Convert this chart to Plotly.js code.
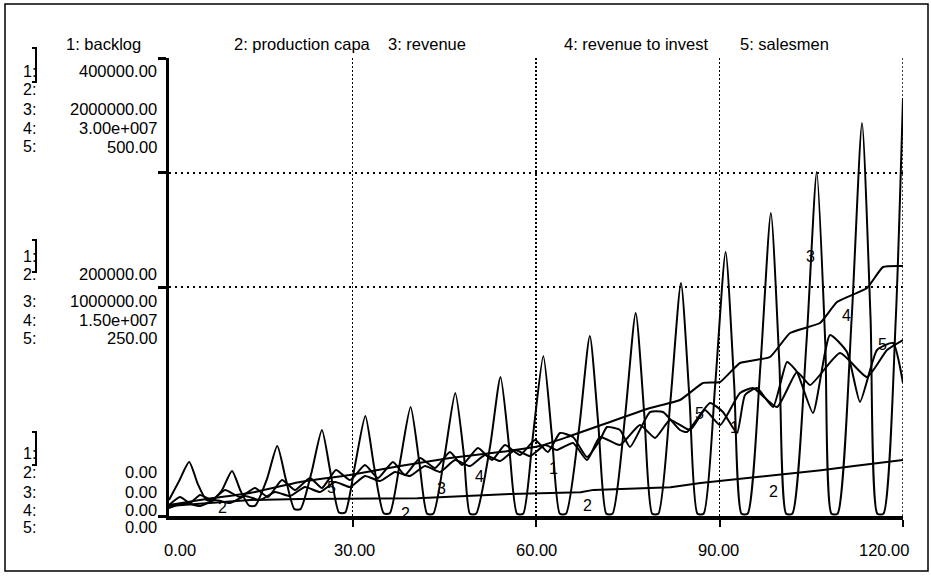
<!DOCTYPE html>
<html>
<head>
<meta charset="utf-8">
<script src="https://cdn.plot.ly/plotly-3.0.1.min.js"></script>
<style>html,body{margin:0;padding:0;background:#fff;}#chart{width:931px;height:576px;}</style>
</head>
<body>
<div id="chart"></div>
<script>
// ---------------- data ----------------
const seriesNames = ['1: backlog', '2: production capa', '3: revenue', '4: revenue to invest', '5: salesmen'];

// 1: backlog (0 .. 400000)
const backlogTime = [0, 1.8, 3.43, 5.07, 7.03, 9.16, 11.61, 14.06, 16.19, 18.47, 20.6, 23.05, 25.01, 27.3, 29.59, 32.04, 34.17, 36.62, 38.58, 41.04, 43.49, 45.94, 47.9, 50.52, 52.81, 54.93, 57.39, 59.84, 61.96, 63.92, 66.05, 68.34, 70.46, 71.61, 73.73, 75.37, 78.64, 80.76, 83.54, 84.69, 88.45, 90.57, 92.86, 94.17, 96.13, 98.75, 101.04, 102.67, 105.29, 108.07, 110.85, 112.97, 115.75, 118.37, 120];
const backlog = [9600, 16600, 11400, 18300, 14000, 22700, 16600, 24500, 16600, 31400, 22700, 33200, 24500, 40200, 31400, 44500, 33200, 47200, 35800, 50700, 41900, 55900, 44500, 59400, 48900, 62000, 53300, 66400, 55900, 72500, 69000, 51500, 66400, 77700, 75100, 60300, 90800, 90800, 75100, 73400, 98700, 90800, 72500, 105700, 111800, 95200, 134500, 125800, 90000, 158100, 143200, 99600, 145000, 151100, 116200];

// 2: production capacity
const capacityTime = [0, 13.3, 21.4, 40.6, 55.8, 62.4, 67.3, 69.4, 82.0, 86.9, 93.5, 97.3, 106.6, 112.0, 120];
const capacity = [8800, 14000, 14800, 15600, 19200, 20000, 20800, 22800, 25200, 28800, 32400, 34800, 40000, 43600, 49000];

// 3: revenue (0 .. 2000000)
const revenueTime = [0, 1.6, 3.3, 4.7, 6.1, 7.1, 8.6, 10.3, 11.7, 13.1, 14.1, 16.0, 17.7, 19.1, 20.5, 21.5, 23.3, 25.0, 26.4, 27.8, 28.8, 30.4, 32.1, 33.5, 35.1, 36.1, 37.8, 39.5, 40.9, 42.2, 43.2, 45.1, 46.8, 48.2, 49.2, 50.2, 52.5, 54.2, 55.6, 56.9, 57.9, 59.5, 61.2, 62.6, 63.9, 64.9, 67.1, 68.8, 70.2, 71.5, 72.5, 74.6, 76.3, 77.7, 79.0, 80.0, 82.0, 83.7, 85.1, 86.4, 87.4, 89.3, 91.0, 92.4, 93.6, 94.6, 96.7, 98.4, 99.8, 100.9, 101.9, 104.2, 105.9, 107.3, 108.3, 109.3, 111.6, 113.3, 114.7, 115.8, 116.8, 118.8, 120.0];
const revenue = [70000, 150000, 236000, 140000, 70000, 70000, 110000, 197000, 110000, 45000, 45000, 160000, 306000, 160000, 30000, 30000, 190000, 376000, 190000, 15000, 15000, 220000, 437000, 220000, 12000, 12000, 240000, 476000, 240000, 10000, 10000, 270000, 537000, 270000, 10000, 10000, 305000, 607000, 305000, 10000, 10000, 350000, 699000, 350000, 10000, 10000, 395000, 786000, 395000, 10000, 10000, 445000, 886000, 445000, 10000, 10000, 510000, 1017000, 510000, 10000, 10000, 575000, 1153000, 575000, 10000, 10000, 660000, 1323000, 660000, 10000, 10000, 750000, 1502000, 750000, 10000, 10000, 860000, 1716000, 860000, 10000, 10000, 850000, 1825000];

// 4: revenue to invest (0 .. 3.00e+007)
const investTime = [0, 5.07, 13.24, 21.42, 29.59, 37.77, 45.94, 54.12, 60.66, 65.56, 71.61, 78.64, 83.54, 87.3, 90.09, 93.35, 98.26, 101.53, 106.43, 109.21, 114.12, 116.73, 120];
const revenueToInvest = [720000, 1048000, 1507000, 2227000, 2686000, 3275000, 3799000, 4192000, 4585000, 5240000, 6092000, 7074000, 7598000, 8712000, 8777000, 10022000, 10415000, 11987000, 12642000, 14017000, 14934000, 16310000, 16376000];

// 5: salesmen (0 .. 500)
const salesmenTime = [0, 2.62, 5.07, 7.52, 9.97, 12.43, 14.88, 17.33, 19.78, 22.24, 24.69, 27.14, 29.59, 32.04, 34.5, 36.95, 39.4, 41.85, 44.31, 46.76, 49.21, 51.66, 54.12, 56.57, 59.02, 61.47, 63.43, 66.05, 68.34, 70.46, 73.73, 77.0, 79.46, 81.91, 85.18, 87.63, 90.09, 93.35, 95.48, 99.4, 102.67, 104.8, 109.7, 114.12, 117.39, 120];
const salesmen = [8.7, 14.2, 10.9, 17.5, 14.2, 21.8, 17.5, 26.2, 21.8, 31.7, 26.2, 37.1, 31.7, 43.7, 38.2, 48.0, 43.7, 54.6, 48.0, 61.1, 54.6, 66.6, 60.0, 72.1, 65.5, 77.5, 72.1, 79.7, 61.1, 86.2, 77.5, 99.3, 85.2, 104.8, 93.9, 115.7, 99.3, 134.3, 139.7, 119.0, 157.2, 143.0, 177.9, 151.7, 181.2, 192.1];

// scale maxima per series
const scaleMax = [400000, 400000, 2000000, 30000000, 500];

// left scale labels (top, middle, bottom groups)
const rowNames = ['1:', '2:', '3:', '4:', '5:'];
const scaleTop = ['400000.00', '', '2000000.00', '3.00e+007', '500.00'];
const scaleMid = ['', '200000.00', '1000000.00', '1.50e+007', '250.00'];
const scaleBottom = ['', '0.00', '0.00', '0.00', '0.00'];

// x tick labels
const xTickVals = [0, 30, 60, 90, 120];
const xTickText = ['0.00', '30.00', '60.00', '90.00', '120.00'];

// curve number labels: series index, time, value on that series' scale
const tagSeries = [3, 3, 3, 4, 4, 1, 1, 1, 2, 2, 2, 2, 5, 5, 5];
const tagTime = [104.8, 44.6, 14.9, 50.8, 110.8, 62.8, 92.5, 3.1, 8.7, 38.6, 68.5, 98.8, 26.6, 86.8, 116.7];
const tagValue = [1135000, 122000, -17500, 2555000, 13166000, 41900, 76900, -3500, 7000, 2600, 9600, 21000, 30.6, 112.4, 186.7];

// ---------------- layout helpers ----------------
const L = 169, R = 903, T = 58, B = 516;
const px = x => (x - L) / (R - L);
const py = y => (B - y) / (B - T);
const FONT = '"Liberation Sans", Arial, Helvetica, sans-serif';

const lineStyle = {color: '#000', width: 2};
const traces = [
  {x: backlogTime, y: backlog, yaxis: 'y', name: seriesNames[0], mode: 'lines', line: Object.assign({shape: 'spline', smoothing: 0.5}, lineStyle)},
  {x: capacityTime, y: capacity, yaxis: 'y2', name: seriesNames[1], mode: 'lines', line: Object.assign({}, lineStyle)},
  {x: revenueTime, y: revenue, yaxis: 'y3', name: seriesNames[2], mode: 'lines', line: Object.assign({shape: 'spline', smoothing: 0.6}, lineStyle)},
  {x: investTime, y: revenueToInvest, yaxis: 'y4', name: seriesNames[3], mode: 'lines', line: Object.assign({shape: 'spline', smoothing: 0.4}, lineStyle)},
  {x: salesmenTime, y: salesmen, yaxis: 'y5', name: seriesNames[4], mode: 'lines', line: Object.assign({shape: 'spline', smoothing: 0.5}, lineStyle)}
];

const annotations = [];
const txt = (text, x, y, xanchor, size) => ({
  text: text, x: x, y: y, xref: 'paper', yref: 'paper', xanchor: xanchor, yanchor: 'middle',
  showarrow: false, font: {family: FONT, size: size || 16.5, color: '#000000'}
});

// header series names
const headerX = [64, 232, 386, 562, 738];
seriesNames.forEach((n, i) => annotations.push(txt(n, px(headerX[i]), py(44), 'left')));

// left scale groups
const groups = [
  {vals: scaleTop, rows: [71, 89, 109, 128, 147]},
  {vals: scaleMid, rows: [256, 274, 301, 320, 338]},
  {vals: scaleBottom, rows: [453, 472, 492, 510, 527]}
];
groups.forEach(g => {
  rowNames.forEach((r, i) => {
    annotations.push(txt(r, px(21), py(g.rows[i]), 'left', 16));
    if (g.vals[i]) annotations.push(txt(g.vals[i], px(159), py(g.rows[i]), 'right'));
  });
});

// x tick labels
const xShift = [11, 2, 0, -1, -19];
xTickVals.forEach((v, i) => annotations.push({
  text: xTickText[i], x: v, y: py(550), xref: 'x', yref: 'paper', xanchor: 'center', yanchor: 'middle',
  xshift: xShift[i], showarrow: false, font: {family: FONT, size: 16.5, color: '#000000'}
}));

// curve number tags
const axisRef = ['y', 'y2', 'y3', 'y4', 'y5'];
tagSeries.forEach((s, i) => annotations.push({
  text: String(s), x: tagTime[i], y: tagValue[i], xref: 'x', yref: axisRef[s - 1],
  xanchor: 'center', yanchor: 'middle', showarrow: false,
  font: {family: FONT, size: 16, color: '#000000'}
}));

// decorative shapes: outer frame, right dotted edge, small brackets beside the scale groups
const shapes = [
  {type: 'rect', xref: 'paper', yref: 'paper', x0: px(5), x1: px(928), y0: py(571), y1: py(4), line: {color: '#000', width: 1.5}},
  {type: 'line', xref: 'x', yref: 'paper', x0: 120, x1: 120, y0: 0, y1: 1, line: {color: '#000', width: 1.5, dash: '2px,2px'}}
];
[[48, 82], [240, 272], [432, 465]].forEach(b => {
  shapes.push({type: 'path', xref: 'paper', yref: 'paper',
    path: `M ${px(32)} ${py(b[0])} L ${px(36)} ${py(b[0])} L ${px(36)} ${py(b[1])} L ${px(32)} ${py(b[1])}`,
    line: {color: '#000', width: 2}});
});

const hiddenAxis = (max) => ({range: [0, max], overlaying: 'y', visible: false, fixedrange: true});

const layout = {
  width: 931, height: 576,
  margin: {l: L, r: 931 - R, t: T, b: 576 - B, autoexpand: false},
  paper_bgcolor: '#fff', plot_bgcolor: '#fff',
  showlegend: false,
  font: {family: FONT, color: '#000'},
  xaxis: {
    range: [0, 120], showline: true, linecolor: '#000', linewidth: 4,
    tickvals: [30, 60, 90, 120], ticks: 'outside', ticklen: 7, tickwidth: 2, tickcolor: '#000',
    showticklabels: false, showgrid: true, gridcolor: '#000', gridwidth: 1.5, griddash: '2px,2px',
    zeroline: false, fixedrange: true
  },
  yaxis: {
    range: [0, scaleMax[0]], showline: true, linecolor: '#000', linewidth: 3,
    tickvals: [0, 200000, 300000, 400000], ticks: 'outside', ticklen: 8, tickwidth: 3, tickcolor: '#000',
    showticklabels: false, showgrid: false, zeroline: false, fixedrange: true
  },
  yaxis2: hiddenAxis(scaleMax[1]),
  yaxis3: {
    range: [0, scaleMax[2]], overlaying: 'y', showline: false, ticks: '', showticklabels: false,
    tickvals: [1000000, 1500000], showgrid: true, gridcolor: '#000', gridwidth: 2, griddash: '2px,4px',
    zeroline: false, fixedrange: true
  },
  yaxis4: hiddenAxis(scaleMax[3]),
  yaxis5: hiddenAxis(scaleMax[4]),
  annotations: annotations,
  shapes: shapes
};

Plotly.newPlot('chart', traces, layout, {displayModeBar: false, staticPlot: true});
</script>
</body>
</html>
